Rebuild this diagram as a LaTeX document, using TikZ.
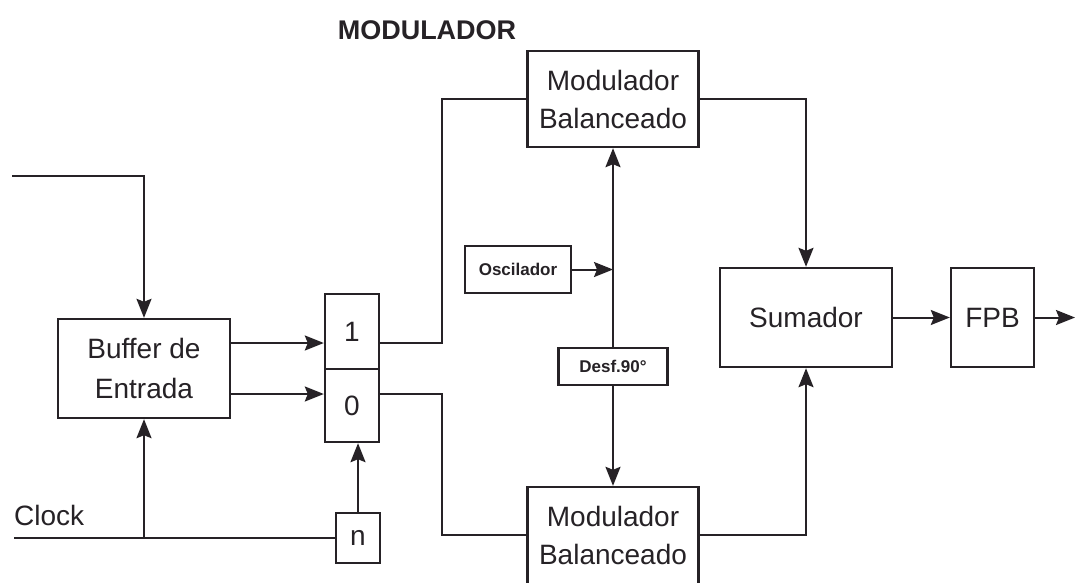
\documentclass[tikz,border=0pt]{standalone}
\usepackage{fontspec}
\setmainfont{Liberation Sans}
\usetikzlibrary{arrows.meta,calc}
\definecolor{ink}{RGB}{38,34,38}
\begin{document}
\begin{tikzpicture}[x=1pt,y=-1pt,
  blk/.style={draw=ink,line width=2.4pt,inner sep=0pt,align=center,text=ink,font=\fontsize{28}{38}\selectfont},
  small/.style={draw=ink,line width=2.2pt,inner sep=0pt,text=ink,font=\fontsize{17}{20}\selectfont\bfseries},
  wire/.style={draw=ink,line width=2pt},
  arr/.style={wire,-{Stealth[length=19pt,width=15pt,inset=3pt]}},
  lbl/.style={text=ink,inner sep=0pt}]
\useasboundingbox (0,0) rectangle (1075,582);
\fill[white] (0,0) rectangle (1075,582);

\node[lbl, font=\fontsize{27}{30}\selectfont\bfseries] (title) at (427,30) {MODULADOR};
\node[lbl, font=\fontsize{28}{30}\selectfont, anchor=base west] (clocklbl) at (14,525) {Clock};

\node[blk, minimum width=171pt, minimum height=96pt] (topmod) at (613,99) {Modulador\\Balanceado};
\node[blk, minimum width=171pt, minimum height=112pt] (botmod) at (613,543) {};
\node[lbl, font=\fontsize{28}{38}\selectfont, align=center] (botmodtxt) at (613,535) {Modulador\\Balanceado};
\node[blk, font=\fontsize{28}{40}\selectfont, minimum width=172pt, minimum height=99pt] (buffer) at (144,368.5) {Buffer de\\Entrada};
\node[blk, minimum width=54pt, minimum height=75pt] (sw1) at (352,331.5) {1};
\node[blk, minimum width=54pt, minimum height=73pt] (sw0) at (352,405.5) {0};
\node[blk, minimum width=44pt, minimum height=50pt] (nbox) at (358,538) {n};
\node[small, minimum width=106pt, minimum height=47pt] (osc) at (518,269.5) {Oscilador};
\node[small, minimum width=109pt, minimum height=37pt] (desf) at (613,366.5) {Desf.90°};
\node[blk, minimum width=172pt, minimum height=99pt] (sum) at (806,317.5) {Sumador};
\node[blk, minimum width=83pt, minimum height=99pt] (fpb) at (992.5,317.5) {FPB};

\coordinate (in) at (12,176);
\coordinate (clk) at (14,538);
\coordinate (out) at (1075,317.5);
\coordinate (ya) at (0,343);
\coordinate (yb) at (0,394);
\coordinate (yc) at (0,535);
\coordinate (jx) at (442,0);
\coordinate (oj) at (613,269.5);

\draw[arr] (in) -| (buffer.north);
\draw[wire] (clk) -- (nbox.west);
\draw[arr] (buffer.south |- clk) -- (buffer.south);
\draw[arr] (nbox.north) -- (nbox.north |- sw0.south);
\draw[arr] (buffer.east |- ya) -- (sw1.west |- ya);
\draw[arr] (buffer.east |- yb) -- (sw0.west |- yb);
\draw[wire] (sw1.east |- ya) -- (jx |- ya) |- (topmod.west);
\draw[wire] (sw0.east |- yb) -- (jx |- yb) |- (botmod.west |- yc);
\draw[arr] (topmod.east) -| (sum.north);
\draw[arr] (botmod.east |- yc) -| (sum.south);
\draw[arr] (sum.east) -- (fpb.west);
\draw[arr] (fpb.east) -- (out);
\draw[arr] (osc.east) -- (oj);
\draw[arr] (desf.north) -- (topmod.south);
\draw[arr] (desf.south) -- (botmod.north);
\end{tikzpicture}
\end{document}
